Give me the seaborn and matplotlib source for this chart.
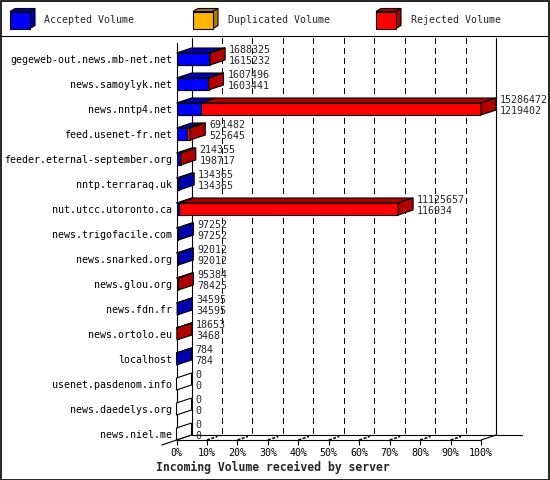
import pandas as pd
import matplotlib
matplotlib.use('Agg')
import matplotlib.pyplot as plt
import seaborn as sns
from matplotlib.patches import Polygon, Rectangle
from matplotlib.lines import Line2D

# -------------------------------------------------------
# data
# -------------------------------------------------------
servers = ['gegeweb-out.news.mb-net.net', 'news.samoylyk.net', 'news.nntp4.net',
           'feed.usenet-fr.net', 'feeder.eternal-september.org', 'nntp.terraraq.uk',
           'nut.utcc.utoronto.ca', 'news.trigofacile.com', 'news.snarked.org',
           'news.glou.org', 'news.fdn.fr', 'news.ortolo.eu', 'localhost',
           'usenet.pasdenom.info', 'news.daedelys.org', 'news.niel.me']
total_vol = [1688325, 1607496, 15286472, 691482, 214355, 134365, 11125657, 97252,
             92012, 95384, 34595, 18653, 784, 0, 0, 0]
accepted_vol = [1615232, 1603441, 1219402, 525645, 198717, 134365, 116934, 97252,
                92012, 78425, 34595, 3468, 784, 0, 0, 0]
legend_labels = ['Accepted Volume', 'Duplicated Volume', 'Rejected Volume']
xticks = list(range(0, 101, 10))

FRONT = {'acc': '#0000ff', 'dup': '#ffb400', 'rej': '#ff0000'}
DARK = {'acc': '#0000b0', 'dup': '#b07e00', 'rej': '#b00000'}

sns.set_style('white')
plt.rcParams['font.family'] = ['DejaVu Sans Mono']

df = pd.DataFrame({'server': servers, 'total': total_vol, 'accepted': accepted_vol})
vmax = df['total'].max()
df['tot_pct'] = df['total'] / vmax * 100
df['acc_pct'] = df['accepted'] / vmax * 100

W, H = 550, 480
fig = plt.figure(figsize=(5.5, 4.8), dpi=100)
fig.patch.set_facecolor('white')

# plot box (pixels): 0% at x=176.5, 100% at x=481, rows 25px apart
x0, x1 = 176.5, 481
ytop, yfloor, row0 = 38, 440, 59
ax = fig.add_axes([x0 / W, 1 - yfloor / H, (x1 - x0) / W, (yfloor - ytop) / H])
ax.set_facecolor('none')
px_x = (x1 - x0) / 100
px_y = 25
dx = 15 / px_x          # 3d depth in data units
dy = 5 / px_y
bh = 12 / px_y
y_lo = (yfloor - row0) / px_y
y_hi = (ytop - row0) / px_y

# front faces (stacked: total in red, accepted in blue on top)
sns.barplot(data=df, x='tot_pct', y='server', color=FRONT['rej'], saturation=1,
            width=bh, edgecolor='k', linewidth=0.8, ax=ax, zorder=3)
sns.barplot(data=df, x='acc_pct', y='server', color=FRONT['acc'], saturation=1,
            width=bh, edgecolor='k', linewidth=0.8, ax=ax, zorder=3)

# top & side faces
for i, r in df.iterrows():
    yt, yb = i - bh / 2, i + bh / 2
    for a, b, k in [(0, r['acc_pct'], 'acc'), (r['acc_pct'], r['tot_pct'], 'rej')]:
        if b - a > 0:
            ax.add_patch(Polygon([(a, yt), (a + dx, yt - dy), (b + dx, yt - dy), (b, yt)],
                                 fc=DARK[k], ec='k', lw=0.8, zorder=3, clip_on=False))
    if r['tot_pct'] - r['acc_pct'] > 0:
        side = DARK['rej']
    elif r['tot_pct'] > 0:
        side = DARK['acc']
    else:
        side = 'white'
    t = r['tot_pct']
    ax.add_patch(Polygon([(t, yt), (t + dx, yt - dy), (t + dx, yb - dy), (t, yb)],
                         fc=side, ec='k', lw=0.8, zorder=3, clip_on=False))
    ax.text(t + dx + 1.3, i - 0.37, str(r['total']), fontsize=7.2, va='center', ha='left')
    ax.text(t + dx + 1.3, i + 0.08, str(r['accepted']), fontsize=7.2, va='center', ha='left')

# back wall grid
for k in xticks[1:-1]:
    ax.plot([k + dx, k + dx], [y_hi, y_lo - dy], color='k', lw=1,
            ls=(0, (4, 3)), zorder=0.5, clip_on=False, antialiased=False)
    ax.plot([k, k + 0.7 * dx], [y_lo, y_lo - 0.7 * dy], color='k', lw=1.1,
            ls=(0, (2, 1)), zorder=0.5, clip_on=False)

# walls and floor
wall = dict(color='k', lw=0.8, zorder=1, clip_on=False)
ax.plot([0, 0], [y_lo, y_hi + dy], **wall)
ax.plot([dx, dx], [y_hi, y_lo - dy], **wall)
ax.plot([100 + dx, 100 + dx], [y_hi, y_lo - dy], **wall)
ax.plot([dx, 113.5], [y_lo - dy, y_lo - dy], **wall)
ax.plot([-4.8, dx], [y_lo + 0.2, y_lo - dy], **wall)
ax.plot([100, 100 + dx], [y_lo, y_lo - dy], **wall)

ax.set_xlim(0, 100)
ax.set_ylim(y_lo, y_hi)
ax.set_xticks(xticks, [f'{t}%' for t in xticks])
ax.set_xlabel('')
ax.set_ylabel('')
for s in ['top', 'right', 'left']:
    ax.spines[s].set_visible(False)
ax.spines['bottom'].set_color('k')
ax.spines['bottom'].set_linewidth(0.8)
ax.tick_params(axis='x', bottom=True, length=3.6, width=0.8, pad=2,
               labelsize=7.2, colors='k')
ax.tick_params(axis='y', left=False, length=0, pad=3.3, labelsize=7.2, colors='k')

fig.text(156 / W, 1 - 467 / H, 'Incoming Volume received by server',
         fontsize=8.3, fontweight='bold', va='center', ha='left')

# legend strip with 3d swatches
lax = fig.add_axes([0, 1 - 35 / H, 1, 35 / H])
lax.set_xlim(0, W)
lax.set_ylim(35, 0)
lax.axis('off')
for (lx, tx), key, lab in zip([(10, 44), (193, 228), (376, 411)], ['acc', 'dup', 'rej'], legend_labels):
    fy, fw, fh, cdx, cdy = 11.5, 20, 17, 5, 3
    lax.add_patch(Polygon([(lx, fy), (lx + cdx, fy - cdy), (lx + fw + cdx, fy - cdy), (lx + fw, fy)],
                          fc=DARK[key], ec='k', lw=0.8))
    lax.add_patch(Polygon([(lx + fw, fy), (lx + fw + cdx, fy - cdy), (lx + fw + cdx, fy + fh - cdy),
                           (lx + fw, fy + fh)], fc=DARK[key], ec='k', lw=0.8))
    lax.add_patch(Rectangle((lx, fy), fw, fh, fc=FRONT[key], ec='k', lw=0.8))
    lax.text(tx, 20, lab, fontsize=7.2, va='center', ha='left')

fig.add_artist(Line2D([0, 1], [1 - 35.5 / H, 1 - 35.5 / H], color='k', lw=0.8,
                      transform=fig.transFigure))
fig.add_artist(Rectangle((0.001, 0.001), 0.997, 0.997, fill=False, ec='k', lw=1.2,
                         transform=fig.transFigure))

fig.savefig('out.png', dpi=100)
